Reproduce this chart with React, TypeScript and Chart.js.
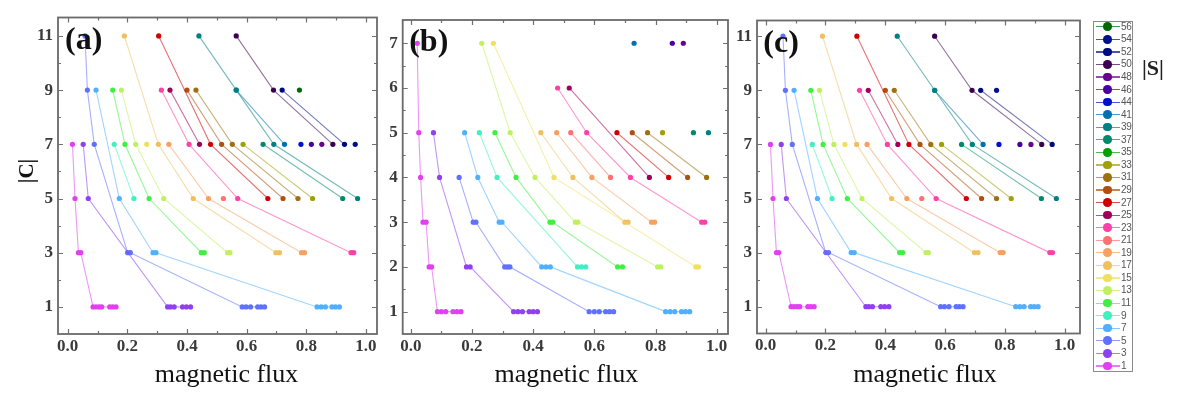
import React, { useEffect, useRef } from 'react';
import { Chart, registerables } from 'chart.js';

Chart.register(...registerables);

type P = [number, number];

// legend: |S| values and colours
const S_VALUES = [56, 54, 52, 50, 48, 46, 44, 41, 39, 37, 35, 33, 31, 29, 27, 25, 23, 21, 19, 17, 15, 13, 11, 9, 7, 5, 3, 1];
const S_COLORS = ['#006a00', '#00108a', '#000a80', '#3c0050', '#6a0090', '#4a00a0', '#0010d0', '#0070b0', '#008080', '#008a6a', '#00a000', '#a0a000', '#a07010', '#b05010', '#d00000', '#a0005a', '#ff40a8', '#ff7070', '#f8a060', '#f0c060', '#f0e060', '#c0f060', '#40f040', '#40f0c0', '#50b0ff', '#6070ff', '#9040f0', '#e040f0'];

// tick labels
const X_TICKS = [0, 0.2, 0.4, 0.6, 0.8, 1.0];
const X_TICK_LABELS = ['0.0', '0.2', '0.4', '0.6', '0.8', '1.0'];
const X_MINOR = [0.1, 0.3, 0.5, 0.7, 0.9];
const Y_TICKS_AC = [1, 3, 5, 7, 9, 11];
const Y_MINOR_AC = [2, 4, 6, 8, 10];
const Y_TICKS_B = [1, 2, 3, 4, 5, 6, 7];
const Y_MINOR_B = [1.5, 2.5, 3.5, 4.5, 5.5, 6.5];

// panel (a): [magnetic flux, |C|]
const a1: P[] = [[0.016, 7], [0.0245, 5], [0.036, 3], [0.044, 3], [0.085, 1], [0.095, 1], [0.105, 1], [0.114, 1], [0.141, 1], [0.151, 1], [0.162, 1]];
const a3: P[] = [[0.052, 7], [0.069, 5], [0.335, 1], [0.345, 1], [0.357, 1], [0.385, 1], [0.398, 1], [0.412, 1]];
const a5: P[] = [[0.058, 11], [0.066, 9], [0.089, 7], [0.201, 3], [0.21, 3], [0.585, 1], [0.598, 1], [0.613, 1], [0.637, 1], [0.648, 1], [0.66, 1]];
const a7: P[] = [[0.095, 9], [0.173, 5], [0.286, 3], [0.296, 3], [0.836, 1], [0.85, 1], [0.864, 1], [0.886, 1], [0.898, 1], [0.911, 1]];
const a9: P[] = [[0.156, 7], [0.222, 5]];
const a11: P[] = [[0.151, 9], [0.192, 7], [0.273, 5], [0.448, 3], [0.458, 3]];
const a13: P[] = [[0.18, 9], [0.228, 7], [0.322, 5], [0.536, 3], [0.544, 3]];
const a15: P[] = [[0.265, 7]];
const a17: P[] = [[0.19, 11], [0.304, 7], [0.421, 5], [0.698, 3], [0.71, 3]];
const a19: P[] = [[0.339, 7], [0.472, 5], [0.784, 3], [0.794, 3]];
const a21: P[] = [[0.522, 5]];
const a23: P[] = [[0.314, 9], [0.407, 7], [0.57, 5], [0.95, 3], [0.959, 3]];
const a25: P[] = [[0.343, 9], [0.442, 7]];
const a27: P[] = [[0.305, 11], [0.479, 7], [0.671, 5]];
const a29: P[] = [[0.4, 9], [0.516, 7], [0.722, 5]];
const a31: P[] = [[0.43, 9], [0.552, 7], [0.772, 5]];
const a33: P[] = [[0.588, 7], [0.821, 5]];
const a37: P[] = [[0.655, 7], [0.922, 5]];
const a39: P[] = [[0.44, 11], [0.565, 9], [0.691, 7], [0.972, 5]];
const a41: P[] = [[0.565, 9], [0.727, 7]];
const a44: P[] = [[0.782, 7]];
const a46: P[] = [[0.817, 7]];
const a48: P[] = [[0.852, 7]];
const a50: P[] = [[0.565, 11], [0.69, 9], [0.889, 7]];
const a52: P[] = [[0.719, 9], [0.928, 7]];
const a54: P[] = [[0.964, 7]];
const a56: P[] = [[0.777, 9]];

// panel (b)
const b1: P[] = [[0.021, 7], [0.026, 5], [0.032, 4], [0.04, 3], [0.05, 3], [0.06, 2], [0.068, 2], [0.087, 1], [0.1, 1], [0.114, 1], [0.138, 1], [0.151, 1], [0.164, 1]];
const b3: P[] = [[0.074, 5], [0.094, 4], [0.182, 2], [0.194, 2], [0.336, 1], [0.35, 1], [0.365, 1], [0.387, 1], [0.4, 1], [0.414, 1]];
const b5: P[] = [[0.158, 4], [0.204, 3], [0.213, 3], [0.307, 2], [0.316, 2], [0.324, 2], [0.583, 1], [0.6, 1], [0.616, 1], [0.637, 1], [0.65, 1], [0.663, 1]];
const b7: P[] = [[0.176, 5], [0.219, 4], [0.289, 3], [0.298, 3], [0.428, 2], [0.442, 2], [0.456, 2], [0.833, 1], [0.848, 1], [0.863, 1], [0.885, 1], [0.898, 1], [0.912, 1]];
const b9: P[] = [[0.224, 5], [0.282, 4], [0.545, 2], [0.558, 2], [0.572, 2]];
const b11: P[] = [[0.275, 5], [0.344, 4], [0.455, 3], [0.464, 3], [0.676, 2], [0.692, 2]];
const b13: P[] = [[0.232, 7], [0.325, 5], [0.406, 4], [0.538, 3], [0.546, 3], [0.807, 2], [0.817, 2]];
const b15: P[] = [[0.27, 7], [0.468, 4], [0.932, 2], [0.94, 2]];
const b17: P[] = [[0.425, 5], [0.53, 4], [0.7, 3], [0.71, 3]];
const b19: P[] = [[0.477, 5], [0.592, 4], [0.787, 3], [0.797, 3]];
const b21: P[] = [[0.523, 5], [0.653, 4]];
const b23: P[] = [[0.48, 6], [0.575, 5], [0.718, 4], [0.951, 3], [0.961, 3]];
const b25: P[] = [[0.518, 6], [0.78, 4]];
const b27: P[] = [[0.674, 5], [0.843, 4]];
const b29: P[] = [[0.724, 5], [0.905, 4]];
const b31: P[] = [[0.774, 5], [0.967, 4]];
const b33: P[] = [[0.823, 5]];
const b37: P[] = [[0.924, 5]];
const b39: P[] = [[0.973, 5]];
const b41: P[] = [[0.73, 7]];
const b46: P[] = [[0.855, 7]];
const b48: P[] = [[0.891, 7]];

// panel (c): differs from (a) only at the top right
const c44: P[] = [[0.78, 7]];
const c46: P[] = [[0.85, 7]];
const c48: P[] = [[0.887, 7]];
const c50: P[] = [[0.565, 11], [0.69, 9], [0.923, 7]];
const c52: P[] = [[0.719, 9], [0.958, 7]];
const c54: P[] = [[0.772, 9]];

const seriesA: [number, P[]][] = [[1, a1], [3, a3], [5, a5], [7, a7], [9, a9], [11, a11], [13, a13], [15, a15], [17, a17], [19, a19], [21, a21], [23, a23], [25, a25], [27, a27], [29, a29], [31, a31], [33, a33], [37, a37], [39, a39], [41, a41], [44, a44], [46, a46], [48, a48], [50, a50], [52, a52], [54, a54], [56, a56]];
const seriesB: [number, P[]][] = [[1, b1], [3, b3], [5, b5], [7, b7], [9, b9], [11, b11], [13, b13], [15, b15], [17, b17], [19, b19], [21, b21], [23, b23], [25, b25], [27, b27], [29, b29], [31, b31], [33, b33], [37, b37], [39, b39], [41, b41], [46, b46], [48, b48]];
const seriesC: [number, P[]][] = [[1, a1], [3, a3], [5, a5], [7, a7], [9, a9], [11, a11], [13, a13], [15, a15], [17, a17], [19, a19], [21, a21], [23, a23], [25, a25], [27, a27], [29, a29], [31, a31], [33, a33], [37, a37], [39, a39], [41, a41], [44, c44], [46, c46], [48, c48], [50, c50], [52, c52], [54, c54]];

const colorOf = (s: number) => S_COLORS[S_VALUES.indexOf(s)];
const rgba = (hex: string, a: number) => {
  const n = parseInt(hex.slice(1), 16);
  return `rgba(${(n >> 16) & 255},${(n >> 8) & 255},${n & 255},${a})`;
};

const SERIF = '"Liberation Serif", "Times New Roman", serif';

type PanelCfg = {
  series: [number, P[]][];
  label: string;
  left: number; right: number; top: number; bottom: number;
  yWidth: number;
  xMin: number; xMax: number; yMin: number; yMax: number;
  yTicks: number[]; yMinor: number[];
  yTitle: boolean;
  titleShift: number;
  labelDx: number;
};

const W = 1184;
const H = 396;

const framePlugin = {
  id: 'frameTicks',
  afterDatasetsDraw(chart: any, _args: any, o: any) {
    const { ctx, chartArea } = chart;
    const { left, right, top, bottom } = chartArea;
    const xs = chart.scales.x;
    const ys = chart.scales.y;
    ctx.save();
    ctx.strokeStyle = '#707070';
    ctx.lineWidth = 1.2;
    const vx = (vals: number[], len: number) => {
      vals.forEach((v) => {
        const px = Math.round(xs.getPixelForValue(v)) + 0.5;
        ctx.beginPath();
        ctx.moveTo(px, bottom); ctx.lineTo(px, bottom - len);
        ctx.moveTo(px, top); ctx.lineTo(px, top + len);
        ctx.stroke();
      });
    };
    const vy = (vals: number[], len: number) => {
      vals.forEach((v) => {
        const py = Math.round(ys.getPixelForValue(v)) + 0.5;
        ctx.beginPath();
        ctx.moveTo(left, py); ctx.lineTo(left + len, py);
        ctx.moveTo(right, py); ctx.lineTo(right - len, py);
        ctx.stroke();
      });
    };
    vx(X_TICKS, 5); vx(X_MINOR, 3);
    vy(o.yTicks, 5); vy(o.yMinor, 3);
    ctx.lineWidth = 1.8;
    ctx.strokeStyle = '#6a6a6a';
    ctx.strokeRect(left, top, right - left, bottom - top);
    ctx.restore();
  },
  afterDraw(chart: any, _args: any, o: any) {
    const { ctx, chartArea } = chart;
    const { left, right, top } = chartArea;
    ctx.save();
    ctx.fillStyle = '#111';
    ctx.font = `bold 32px ${SERIF}`;
    ctx.textAlign = 'left';
    ctx.textBaseline = 'alphabetic';
    ctx.fillText(o.label, left + o.labelDx, top + 31);
    ctx.font = `26px ${SERIF}`;
    ctx.textAlign = 'center';
    ctx.fillText('magnetic flux', (left + right) / 2 + o.titleShift, 381.5);
    if (o.yTitle) {
      ctx.translate(33, 171);
      ctx.rotate(-Math.PI / 2);
      ctx.font = `bold 21px ${SERIF}`;
      ctx.fillText('|C|', 0, 0);
    }
    ctx.restore();
  },
};

function Panel({ cfg }: { cfg: PanelCfg }) {
  const ref = useRef<HTMLCanvasElement>(null);
  useEffect(() => {
    const canvas = ref.current!;
    const datasets = cfg.series.map(([s, pts]) => {
      const c = colorOf(s);
      return {
        label: String(s),
        data: pts.map(([x, y]) => ({ x, y })),
        showLine: true,
        borderColor: rgba(c, 0.55),
        borderWidth: 1.1,
        backgroundColor: c,
        pointBackgroundColor: c,
        pointBorderWidth: 0,
        pointRadius: 2.6,
        pointHoverRadius: 2.6,
        tension: 0,
        clip: false as any,
      };
    });
    const chart = new Chart(canvas, {
      type: 'scatter',
      data: { datasets },
      plugins: [framePlugin as any],
      options: {
        animation: false,
        responsive: false,
        devicePixelRatio: 1,
        events: [],
        layout: {
          padding: { left: cfg.left - cfg.yWidth, right: W - cfg.right, top: cfg.top, bottom: 0 },
        },
        plugins: {
          legend: { display: false },
          tooltip: { enabled: false },
          frameTicks: { label: cfg.label, yTicks: cfg.yTicks, yMinor: cfg.yMinor, yTitle: cfg.yTitle, titleShift: cfg.titleShift, labelDx: cfg.labelDx },
        } as any,
        scales: {
          x: {
            type: 'linear',
            min: cfg.xMin,
            max: cfg.xMax,
            afterBuildTicks: (s: any) => { s.ticks = X_TICKS.map((v) => ({ value: v })); },
            afterFit: (s: any) => { s.height = H - cfg.bottom; s.paddingLeft = 0; s.paddingRight = 0; },
            ticks: {
              autoSkip: false,
              maxRotation: 0,
              padding: 2,
              color: '#3a3a3a',
              font: { family: SERIF, size: 17, weight: 'bold' },
              callback: (_v: any, i: number) => X_TICK_LABELS[i],
            },
            grid: { display: false, drawTicks: false },
            border: { display: false },
          },
          y: {
            type: 'linear',
            min: cfg.yMin,
            max: cfg.yMax,
            afterBuildTicks: (s: any) => { s.ticks = cfg.yTicks.map((v) => ({ value: v })); },
            afterFit: (s: any) => { s.width = cfg.yWidth; s.paddingTop = 0; s.paddingBottom = 0; },
            ticks: {
              autoSkip: false,
              padding: 5,
              color: '#3a3a3a',
              font: { family: SERIF, size: 17, weight: 'bold' },
              callback: (v: any) => String(v),
            },
            grid: { display: false, drawTicks: false },
            border: { display: false },
          },
        },
      } as any,
    });
    return () => chart.destroy();
  }, [cfg]);
  return <canvas ref={ref} width={W} height={H} style={{ position: 'absolute', left: 0, top: 0, width: W, height: H }} />;
}

const PANEL_A: PanelCfg = {
  series: seriesA, label: '(a)', left: 58, right: 377, top: 17.5, bottom: 334, yWidth: 58,
  xMin: -0.0325, xMax: 1.037, yMin: 0, yMax: 11.68, yTicks: Y_TICKS_AC, yMinor: Y_MINOR_AC,
  yTitle: true, titleShift: 9, labelDx: 7,
};
const PANEL_B: PanelCfg = {
  series: seriesB, label: '(b)', left: 402.7, right: 728, top: 20, bottom: 334, yWidth: 40,
  xMin: -0.0265, xMax: 1.037, yMin: 0.5, yMax: 7.52, yTicks: Y_TICKS_B, yMinor: Y_MINOR_B,
  yTitle: false, titleShift: 1, labelDx: 6.5,
};
const PANEL_C: PanelCfg = {
  series: seriesC, label: '(c)', left: 757, right: 1080, top: 20.5, bottom: 333.5, yWidth: 58,
  xMin: -0.029, xMax: 1.051, yMin: 0.01, yMax: 11.58, yTicks: Y_TICKS_AC, yMinor: Y_MINOR_AC,
  yTitle: false, titleShift: 6.5, labelDx: 6.3,
};

function Legend() {
  const top0 = 26.7;
  const step = 12.56;
  return (
    <>
      <div style={{ position: 'absolute', left: 1093, top: 20.5, width: 40, height: 351, border: '1.5px solid #8a8a8a', boxSizing: 'border-box' }} />
      {S_VALUES.map((s, i) => {
        const cy = top0 + i * step;
        const c = S_COLORS[i];
        return (
          <React.Fragment key={s}>
            <div style={{ position: 'absolute', left: 1096, top: cy - 0.5, width: 24, height: 1.2, background: rgba(c, 0.7) }} />
            <div style={{ position: 'absolute', left: 1107.7 - 4.3, top: cy - 4.3, width: 8.6, height: 8.6, borderRadius: '50%', background: c }} />
            <div style={{ position: 'absolute', left: 1121, top: cy - 6, height: 12, lineHeight: '12px', fontSize: 10, fontFamily: '"Liberation Sans", Arial, sans-serif', color: '#555', letterSpacing: -0.3 }}>{s}</div>
          </React.Fragment>
        );
      })}
      <div style={{ position: 'absolute', left: 1142, top: 56.6, fontFamily: SERIF, fontWeight: 'bold', fontSize: 22, lineHeight: '22px', color: '#222' }}>|S|</div>
    </>
  );
}

export default function App() {
  return (
    <div style={{ position: 'fixed', left: 0, top: 0, width: W, height: H, background: '#fff', overflow: 'hidden' }}>
      <Panel cfg={PANEL_A} />
      <Panel cfg={PANEL_B} />
      <Panel cfg={PANEL_C} />
      <Legend />
    </div>
  );
}
